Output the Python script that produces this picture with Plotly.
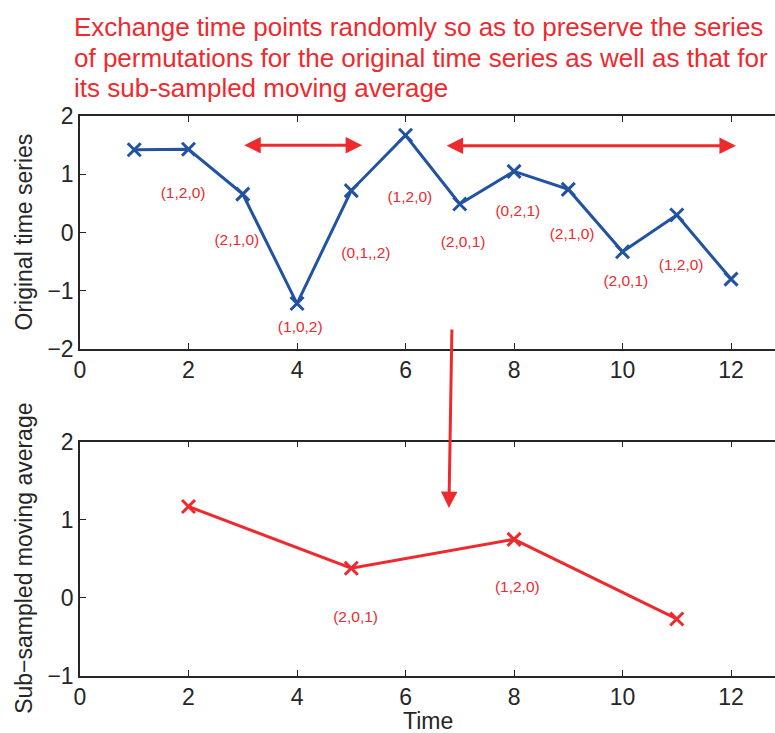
import plotly.graph_objects as go

# ---- data ----
time_orig = [1, 2, 3, 4, 5, 6, 7, 8, 9, 10, 11, 12]
orig_values = [1.42, 1.43, 0.66, -1.22, 0.72, 1.67, 0.49, 1.05, 0.74, -0.33, 0.30, -0.80]
orig_label_text = ["(1,2,0)", "(2,1,0)", "(1,0,2)", "(0,1,,2)", "(1,2,0)", "(2,0,1)",
                   "(0,2,1)", "(2,1,0)", "(2,0,1)", "(1,2,0)"]
orig_label_x = [1.9, 2.89, 4.06, 5.27, 6.08, 7.06, 8.07, 9.07, 10.06, 11.08]
orig_label_y = [0.66, -0.14, -1.65, -0.37, 0.59, -0.18, 0.35, -0.04, -0.85, -0.57]

time_sub = [2, 5, 8, 11]
sub_values = [1.17, 0.38, 0.75, -0.27]
sub_label_text = ["(2,0,1)", "(1,2,0)"]
sub_label_x = [5.08, 8.06]
sub_label_y = [-0.26, 0.13]

x_ticks = [0, 2, 4, 6, 8, 10, 12]
top_y_ticks = [-2, -1, 0, 1, 2]
bottom_y_ticks = [-1, 0, 1, 2]

title_lines = ["Exchange time points randomly so as to preserve the series",
               "of permutations for the original time series as well as that for",
               "its sub-sampled moving average"]

BLUE = "#2253A3"
RED = "#EE2A2E"
AX = "#262626"
FONT = "Liberation Sans, Arial, sans-serif"

fig = go.Figure()
fig.add_trace(go.Scatter(x=time_orig, y=orig_values, mode="lines+markers",
                         line=dict(color=BLUE, width=3),
                         marker=dict(symbol="x-thin-open", size=13,
                                     line=dict(color=BLUE, width=3)),
                         xaxis="x", yaxis="y", showlegend=False))
fig.add_trace(go.Scatter(x=time_sub, y=sub_values, mode="lines+markers",
                         line=dict(color=RED, width=3),
                         marker=dict(symbol="x-thin-open", size=13,
                                     line=dict(color=RED, width=3)),
                         xaxis="x2", yaxis="y2", showlegend=False))
fig.add_trace(go.Scatter(x=orig_label_x, y=orig_label_y, mode="text",
                         text=orig_label_text,
                         textfont=dict(color=RED, size=15.5, family=FONT),
                         xaxis="x", yaxis="y", showlegend=False, hoverinfo="skip"))
fig.add_trace(go.Scatter(x=sub_label_x, y=sub_label_y, mode="text",
                         text=sub_label_text,
                         textfont=dict(color=RED, size=15.5, family=FONT),
                         xaxis="x2", yaxis="y2", showlegend=False, hoverinfo="skip"))

axis_common = dict(showgrid=False, zeroline=False, showline=True, linecolor=AX,
                   linewidth=1.5, ticks="inside", ticklen=6, tickcolor=AX,
                   automargin=False,
                   tickfont=dict(size=23, color=AX, family=FONT))

fig.update_layout(
    width=775, height=733,
    margin=dict(l=80, r=0, t=0, b=0, autoexpand=False),
    paper_bgcolor="white", plot_bgcolor="white",
    font=dict(family=FONT),
    xaxis=dict(domain=[0, 1], range=[0, 12.81], tickvals=x_ticks, anchor="y",
               mirror="ticks", **axis_common),
    yaxis=dict(domain=[0.5239, 0.8417], range=[-2, 2], tickvals=top_y_ticks,
               anchor="x", **axis_common),
    xaxis2=dict(domain=[0, 1], range=[0, 12.81], tickvals=x_ticks, anchor="y2",
                mirror="ticks", **axis_common),
    yaxis2=dict(domain=[0.0778, 0.3974], range=[-1, 2], tickvals=bottom_y_ticks,
                anchor="x2", **axis_common),
)

# title text
for i, line in enumerate(title_lines):
    fig.add_annotation(text=line, xref="paper", yref="paper", x=0, y=1,
                       xanchor="left", yanchor="middle", xshift=-8,
                       yshift=-(27 + 30.5 * i), showarrow=False,
                       font=dict(color=RED, size=26, family=FONT))

# axis titles
fig.add_annotation(text="Original time series", textangle=-90, xref="paper",
                   yref="paper", x=0, y=(0.5239 + 0.8417) / 2, xanchor="center",
                   yanchor="middle", xshift=-56, showarrow=False,
                   font=dict(size=23, color=AX, family=FONT))
fig.add_annotation(text="Sub\u2212sampled moving average", textangle=-90, xref="paper",
                   yref="paper", x=0, y=(0.0778 + 0.3974) / 2, xanchor="center",
                   yanchor="middle", xshift=-56, showarrow=False,
                   font=dict(size=23, color=AX, family=FONT))
fig.add_annotation(text="Time", xref="paper", yref="paper", x=0.5, y=0,
                   xanchor="center", yanchor="middle", yshift=12, showarrow=False,
                   font=dict(size=23, color=AX, family=FONT))

# double arrows
for x0, x1, yv in [(3.0, 5.2, 1.5), (6.73, 12.09, 1.49)]:
    fig.add_annotation(x=x1, y=yv, ax=x0, ay=yv, xref="x", yref="y",
                       axref="x", ayref="y", text="", showarrow=True,
                       arrowhead=2, arrowside="end+start", arrowsize=1.1,
                       arrowwidth=3, arrowcolor=RED)

# vertical arrow between panels
fig.add_annotation(x=6.8, y=1.15, xref="x2", yref="y2", ax=3, ay=-180,
                   text="", showarrow=True, arrowhead=2, arrowsize=1.1,
                   arrowwidth=3, arrowcolor=RED)

fig.write_html("out.html", config={"displayModeBar": False},
               post_script="document.body.style.margin='0';document.body.style.overflow='hidden';")
